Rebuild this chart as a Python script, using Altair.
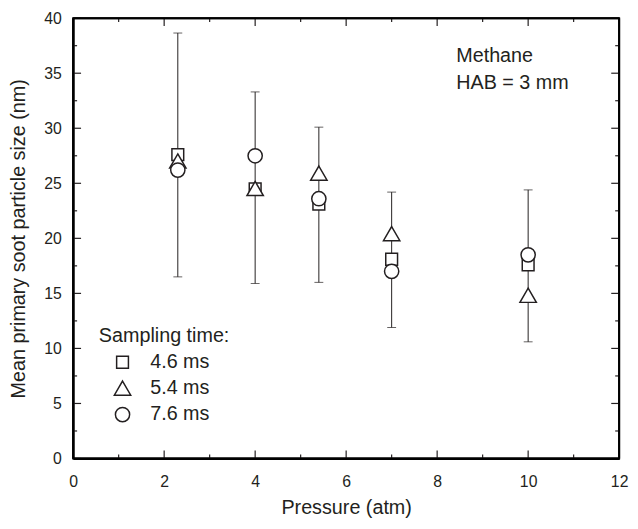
import altair as alt
import pandas as pd

# ---- data ----
pressure = [2.3, 4.0, 5.4, 7.0, 10.0]
series_names = ["4.6 ms", "5.4 ms", "7.6 ms"]
size_46 = [27.6, 24.5, 23.1, 18.1, 17.6]
size_54 = [27.0, 24.5, 25.9, 20.4, 14.8]
size_76 = [26.2, 27.5, 23.6, 17.0, 18.5]
err_low = [16.5, 15.9, 16.0, 11.9, 10.6]
err_high = [38.65, 33.3, 30.1, 24.2, 24.4]

x_major = [0, 2, 4, 6, 8, 10, 12]
x_minor = [1, 3, 5, 7, 9, 11]
y_major = [0, 5, 10, 15, 20, 25, 30, 35, 40]
y_minor = [2.5, 7.5, 12.5, 17.5, 22.5, 27.5, 32.5, 37.5]
x_range = [0, 12]
y_range = [0, 40]

legend_title = "Sampling time:"
annotation = ["Methane", "HAB = 3 mm"]

W, H = 553, 446
FONT = "Liberation Sans"
INK = "#231f20"

# marker outlines as unit-box paths (square, triangle, circle)
SQUARE = "M-0.72,-0.72L0.72,-0.72L0.72,0.72L-0.72,0.72Z"
TRIANGLE = "M0,-0.9L1,0.83L-1,0.83Z"
CIRCLE = "M-0.87,0A0.87,0.87 0 1,0 0.87,0A0.87,0.87 0 1,0 -0.87,0Z"
SHAPES = [SQUARE, TRIANGLE, CIRCLE]
MSIZE = 275

rows = []
for name, vals in zip(series_names, [size_46, size_54, size_76]):
    for p, v in zip(pressure, vals):
        rows.append({"pressure": p, "size": v, "time": name})
pts = pd.DataFrame(rows)
err = pd.DataFrame({"pressure": pressure, "lo": err_low, "hi": err_high})

xscale = alt.Scale(domain=x_range, nice=False, zero=False)
yscale = alt.Scale(domain=y_range, nice=False, zero=False)

xaxis = alt.Axis(values=x_major, title="Pressure (atm)", ticks=False, grid=False,
                 domain=True, domainColor="black", domainWidth=2,
                 labelFlush=False, labelOverlap=False,
                 labelFontSize=16, titleFontSize=20, labelPadding=15, titlePadding=9,
                 labelFont=FONT, titleFont=FONT, labelColor=INK, titleColor=INK,
                 titleFontWeight="normal", format="d")
yaxis = alt.Axis(values=y_major, title="Mean primary soot particle size (nm)", ticks=False,
                 grid=False, domain=True, domainColor="black", domainWidth=2,
                 labelFlush=False, labelOverlap=False,
                 labelFontSize=16, titleFontSize=20, labelPadding=12,
                 titlePadding=15, labelFont=FONT, titleFont=FONT, labelColor=INK, titleColor=INK,
                 titleFontWeight="normal", format="d")

bars = alt.Chart(err).mark_rule(color=INK, strokeWidth=1).encode(
    x=alt.X("pressure:Q", scale=xscale, axis=xaxis),
    y=alt.Y("lo:Q", scale=yscale, axis=yaxis),
    y2="hi:Q",
)
cap_hi = alt.Chart(err).mark_tick(color=INK, orient="horizontal", size=9, thickness=1).encode(
    x="pressure:Q", y="hi:Q")
cap_lo = alt.Chart(err).mark_tick(color=INK, orient="horizontal", size=9, thickness=1).encode(
    x="pressure:Q", y="lo:Q")

points = alt.Chart(pts).mark_point(filled=True, fill="white", stroke=INK, strokeWidth=1.5,
                                   opacity=1, size=MSIZE).encode(
    x="pressure:Q",
    y="size:Q",
    shape=alt.Shape("time:N",
                    scale=alt.Scale(domain=series_names, range=SHAPES),
                    legend=None),
)

# frame (box) drawn at the axis-range ends
fx = pd.DataFrame({"v": x_range})
fy = pd.DataFrame({"v": y_range})
frame_v = alt.Chart(fx).mark_rule(color="black", strokeWidth=2, clip=False).encode(
    x=alt.X("v:Q"), y=alt.value(0), y2=alt.value(H))
frame_h = alt.Chart(fy).mark_rule(color="black", strokeWidth=2, clip=False).encode(
    y=alt.Y("v:Q"), x=alt.value(0), x2=alt.value(W))

tx_major = pd.DataFrame({"v": x_major})
tx_minor = pd.DataFrame({"v": x_minor})
ty_major = pd.DataFrame({"v": y_major})
ty_minor = pd.DataFrame({"v": y_minor})

def xticks(df, L):
    bot = alt.Chart(df).mark_rule(color=INK, strokeWidth=1.2).encode(
        x=alt.X("v:Q"), y=alt.value(H), y2=alt.value(H - L))
    top = alt.Chart(df).mark_rule(color=INK, strokeWidth=1.2).encode(
        x=alt.X("v:Q"), y=alt.value(0), y2=alt.value(L))
    return [bot, top]

def yticks(df, L):
    left = alt.Chart(df).mark_rule(color=INK, strokeWidth=1.2).encode(
        y=alt.Y("v:Q"), x=alt.value(0), x2=alt.value(L))
    right = alt.Chart(df).mark_rule(color=INK, strokeWidth=1.2).encode(
        y=alt.Y("v:Q"), x=alt.value(W), x2=alt.value(W - L))
    return [left, right]

ann = alt.Chart(pd.DataFrame({"t": ["\n".join(annotation)]})).mark_text(
    align="left", baseline="alphabetic", fontSize=20, font=FONT, color=INK, lineHeight=27.5,
    lineBreak="\n",
).encode(x=alt.value(388), y=alt.value(44), text="t:N")

# hand-built legend (lower left, inside the plot)
LEG_X, LEG_Y, ROW = 26, 322, 26.5
leg_layers = [
    alt.Chart(pd.DataFrame({"t": [legend_title]})).mark_text(
        align="left", baseline="middle", fontSize=20, font=FONT, color=INK
    ).encode(x=alt.value(LEG_X), y=alt.value(LEG_Y), text="t:N")
]
for i, (name, shp) in enumerate(zip(series_names, SHAPES)):
    yy = LEG_Y + ROW * (i + 1)
    one = pd.DataFrame({"t": [name]})
    leg_layers.append(alt.Chart(one).mark_point(
        shape=shp, size=MSIZE, filled=True, fill="white", stroke=INK, strokeWidth=1.5, opacity=1
    ).encode(x=alt.value(LEG_X + 24), y=alt.value(yy)))
    leg_layers.append(alt.Chart(one).mark_text(
        align="left", baseline="middle", fontSize=20, font=FONT, color=INK
    ).encode(x=alt.value(LEG_X + 52), y=alt.value(yy), text="t:N"))

chart = alt.layer(
    bars, cap_hi, cap_lo,
    *xticks(tx_major, 8), *xticks(tx_minor, 4), *yticks(ty_major, 8), *yticks(ty_minor, 4),
    points, ann, *leg_layers,
    frame_v, frame_h,
).properties(
    width=W, height=H,
    background="white",
    autosize=alt.AutoSizeParams(type="none"),
    padding={"left": 66, "top": 7, "right": 11, "bottom": 60},
).configure_view(
    stroke="black", strokeWidth=2
)

chart.save("out.html", embed_options={"renderer": "svg", "actions": False})
